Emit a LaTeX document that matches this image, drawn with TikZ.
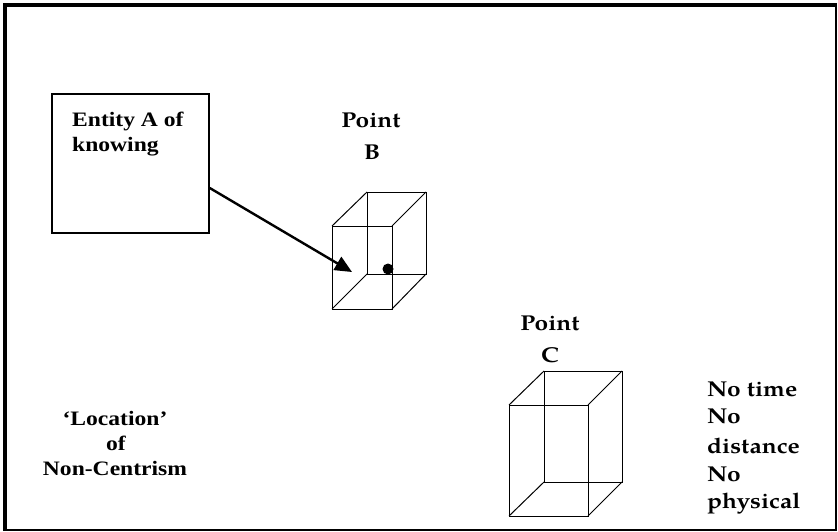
\documentclass[tikz,border=0pt]{standalone}
\usepackage{fontspec}
\usetikzlibrary{arrows.meta}
\newfontfamily\timesb[FakeStretch=1.15]{Liberation Serif}
\newfontfamily\palb[FakeStretch=1.14]{TeX Gyre Pagella}
\begin{document}
\begin{tikzpicture}[x=1pt,y=-1pt,
  tlabel/.style={inner sep=0pt, anchor=base, font=\timesb\bfseries\fontsize{20.5}{24}\selectfont},
  plabel/.style={inner sep=0pt, anchor=base, font=\palb\bfseries\fontsize{21.5}{28}\selectfont},
  edge/.style={line width=1pt, black},
  box/.style={draw, line width=1.5pt, minimum width=157pt, minimum height=139pt, inner sep=0pt}
]
\useasboundingbox (0,0) rectangle (838,532);
% frame
\draw[line width=4pt] (5,531) -- (5,5) -- (837,5);
\draw[line width=2pt] (5,530.3) -- (836.3,530.3) -- (836.3,5);

% Entity A box
\node[box] (entA) at (130.5,163.5) {};
\node[tlabel, anchor=base west] (entA1) at (72,127) {Entity A of};
\node[tlabel, anchor=base west] (entA2) at (72,152) {knowing};

% Point B
\node[plabel] (pb1) at (371,128) {Point};
\node[plabel] (pb2) at (372,160) {B};
\draw[edge] (332,226) rectangle (392,309);
\draw[edge] (367,192) rectangle (426,274);
\draw[edge] (332,226) -- (367,192) (392,226) -- (426,192)
            (332,309) -- (367,274) (392,309) -- (426,274);
\fill (388,269) circle (5.5pt);
\coordinate (tipB) at (352,272);
\draw[line width=2.4pt, -{Triangle[length=17pt,width=15pt]}] ([yshift=-24.5pt]entA.east) -- (tipB);

% Point C
\node[plabel] (pc1) at (550,330) {Point};
\node[plabel] (pc2) at (550,362) {C};
\draw[edge] (509,405) rectangle (588,516);
\draw[edge] (544,371) rectangle (622,482);
\draw[edge] (509,405) -- (544,371) (588,405) -- (622,371)
            (509,516) -- (544,482) (588,516) -- (622,482);

% right text
\node[plabel, anchor=base west] (r1) at (707,396) {No time};
\node[plabel, anchor=base west] (r2) at (707,423) {No};
\node[plabel, anchor=base west] (r3) at (707,453) {distance};
\node[plabel, anchor=base west] (r4) at (707,481) {No};
\node[plabel, anchor=base west] (r5) at (707,508) {physical};

% left text
\node[tlabel] (l1) at (115,425) {‘Location’};
\node[tlabel] (l2) at (116,450) {of};
\node[tlabel] (l3) at (115,475) {Non-Centrism};
\end{tikzpicture}
\end{document}
